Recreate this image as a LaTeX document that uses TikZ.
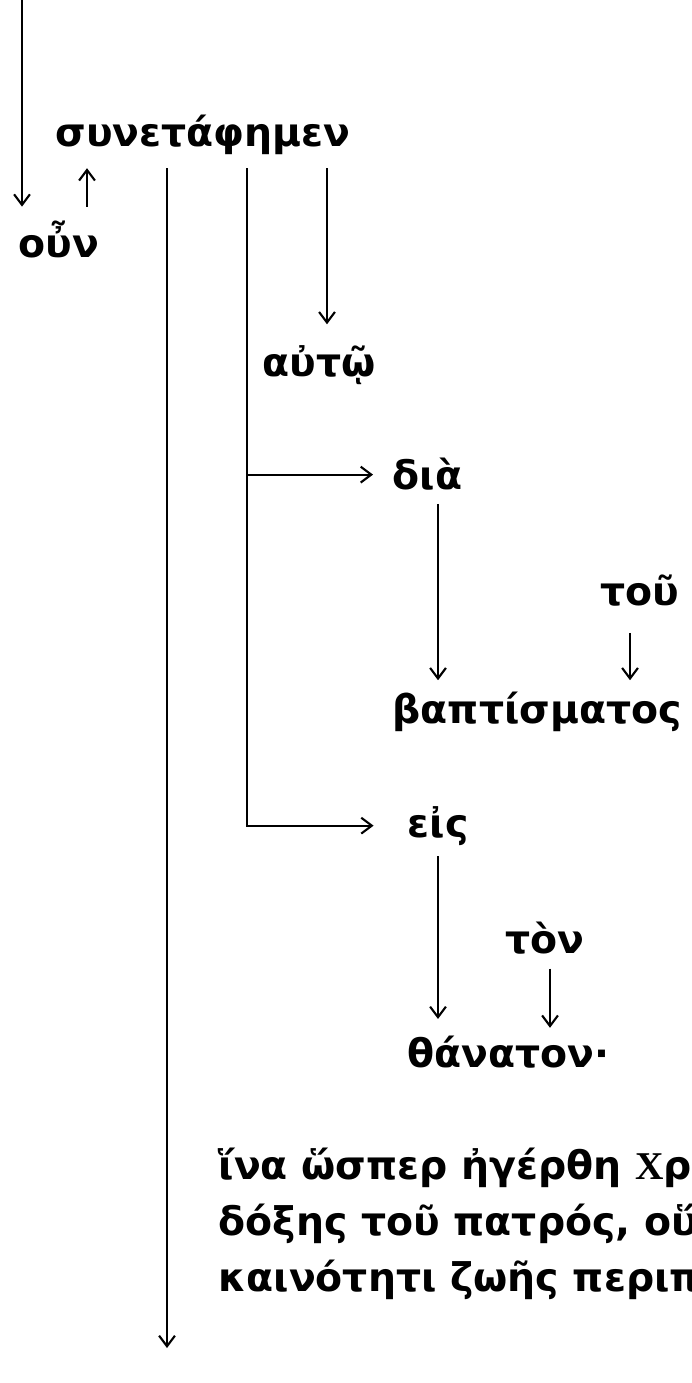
\documentclass[tikz,border=0pt]{standalone}
\usepackage{fontspec}
\setmainfont{DejaVu Sans}
\newfontfamily\capfont{Liberation Serif}
\usetikzlibrary{arrows.meta}

\tikzset{
  word/.style={anchor=base west, inner sep=0pt,
    font=\fontsize{11.2}{15.9}\selectfont\bfseries},
  link/.style={line width=0.6pt},
  arr/.style={link, -{Straight Barb[length=3pt,width=4.5pt]}}
}

\begin{document}
\begin{tikzpicture}[x=0.01cm, y=-0.01cm]
\useasboundingbox (0,0) rectangle (691,1383);

% Words of the sentence
\node[word] (synet) at (55,147) {συνετάφημεν};
\node[word] (oun) at (18,258) {οὖν};
\node[word] (auto) at (262,377) {αὐτῷ};
\node[word] (dia) at (392,490) {διὰ};
\node[word] (tou) at (600,605) {τοῦ};
\node[word] (bapt) at (392,723) {βαπτίσματος};
\node[word] (eis) at (407,837) {εἰς};
\node[word] (ton) at (505,953) {τὸν};
\node[word] (than) at (407,1067) {θάνατον·};
\node[word, anchor=north west, align=left] (hina) at (218,1147)
  {ἵνα ὥσπερ ἠγέρθη {\capfont Χ}ριστὸς ἐκ νεκρῶν διὰ τῆς\\
   δόξης τοῦ πατρός, οὕτως καὶ ἡμεῖς ἐν\\
   καινότητι ζωῆς περιπατήσωμεν.};

% Columns of the lines
\coordinate (prev) at (22,0);
\coordinate (upx) at (87,0);
\coordinate (sp1) at (167,0);
\coordinate (sp2) at (247,0);
\coordinate (sp3) at (327,0);
\coordinate (sp4) at (438,0);
\coordinate (sp5) at (630,0);
\coordinate (sp6) at (550,0);
\coordinate (end) at (167,1348);

% Connectors
\draw[arr, shorten >=4pt] (prev) -- (prev |- oun.north);
\draw[arr, shorten <=4pt, shorten >=3.5pt] (oun.north -| upx) -- (synet.south -| upx);
\draw[arr, shorten <=3.5pt] (synet.south -| sp1) -- (end);
\draw[arr, shorten <=3.5pt, shorten >=9.5pt] (synet.south -| sp2) |- (eis.west);
\draw[arr, shorten >=5.4pt] (dia.west -| sp2) -- (dia.west);
\draw[arr, shorten <=3.5pt, shorten >=6pt] (synet.south -| sp3) -- (auto.north -| sp3);
\draw[arr, shorten <=3.5pt, shorten >=3pt] (dia.south -| sp4) -- (bapt.north -| sp4);
\draw[arr, shorten <=7.5pt, shorten >=3pt] (tou.south -| sp5) -- (bapt.north -| sp5);
\draw[arr, shorten <=3pt, shorten >=4.5pt] (eis.south -| sp4) -- (than.north -| sp4);
\draw[arr, shorten <=4pt, shorten >=2pt] (ton.south -| sp6) -- (than.north -| sp6);

\end{tikzpicture}
\end{document}
